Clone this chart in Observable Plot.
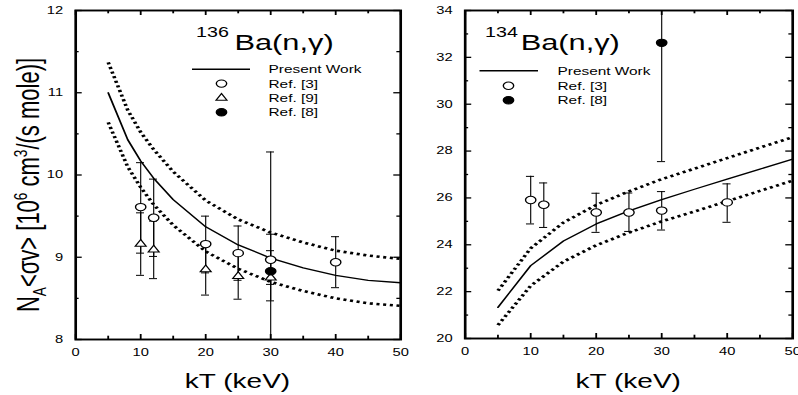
<!DOCTYPE html>
<html><head><meta charset="utf-8">
<script src="https://cdn.jsdelivr.net/npm/d3@7"></script>
<script src="https://cdn.jsdelivr.net/npm/@observablehq/plot@0.6"></script>
<style>
html,body{margin:0;padding:0;background:#fff;}
#wrap{position:relative;width:798px;height:395px;overflow:hidden;background:#fff;}
#wrap svg{position:absolute;top:0;}
</style></head><body><div id="wrap"></div>
<script>
// ---------- data: 136Ba(n,gamma) (left panel) ----------
const kTCurve136 = [5, 8, 10, 12, 15, 20, 25, 30, 35, 40, 45, 50];
const present136 = [11.00, 10.43, 10.17, 9.96, 9.70, 9.37, 9.15, 8.99, 8.87, 8.78, 8.72, 8.69];
const upper136   = [11.37, 10.79, 10.52, 10.31, 10.04, 9.69, 9.46, 9.30, 9.18, 9.08, 9.02, 8.98];
const lower136   = [10.64, 10.10, 9.85, 9.64, 9.39, 9.07, 8.86, 8.70, 8.59, 8.50, 8.44, 8.41];

const ref3kT136  = [10, 12, 20, 25, 30, 40];
const ref3val136 = [9.61, 9.48, 9.16, 9.05, 8.97, 8.94];
const ref3lo136  = [9.05, 9.01, 8.81, 8.72, 8.67, 8.63];
const ref3hi136  = [10.15, 9.95, 9.50, 9.38, 9.28, 9.25];

const ref9kT136  = [10, 12, 20, 25, 30];
const ref9val136 = [9.16, 9.09, 8.85, 8.77, 8.75];
const ref9lo136  = [8.78, 8.74, 8.54, 8.49, 8.47];
const ref9hi136  = [9.54, 9.44, 9.16, 9.06, 9.08];

const ref8kT136  = [30];
const ref8val136 = [8.83];
const ref8lo136  = [7.38];
const ref8hi136  = [10.28];

// ---------- data: 134Ba(n,gamma) (right panel) ----------
const kTCurve134 = [5, 10, 15, 20, 25, 30, 35, 40, 45, 50];
const present134 = [21.33, 23.11, 24.16, 24.89, 25.45, 25.93, 26.37, 26.80, 27.23, 27.66];
const upper134   = [22.04, 23.85, 24.95, 25.70, 26.28, 26.80, 27.25, 27.70, 28.15, 28.59];
const lower134   = [20.57, 22.25, 23.28, 23.98, 24.52, 25.00, 25.42, 25.86, 26.30, 26.74];

const ref3kT134  = [10, 12, 20, 25, 30, 40];
const ref3val134 = [25.91, 25.71, 25.38, 25.38, 25.46, 25.81];
const ref3lo134  = [24.89, 24.74, 24.53, 24.57, 24.63, 24.96];
const ref3hi134  = [26.92, 26.64, 26.20, 26.21, 26.27, 26.60];

const ref8kT134  = [30];
const ref8val134 = [32.62];
const ref8lo134  = [27.55];
const ref8hi134  = [37.70];

// ---------- tick labels ----------
const xMajor = [0, 10, 20, 30, 40, 50];
const xMinor = [5, 15, 25, 35, 45];
const yMajor136 = [8, 9, 10, 11, 12];
const yMinor136 = [8.5, 9.5, 10.5, 11.5];
const yMajor134 = [20, 22, 24, 26, 28, 30, 32, 34];
const yMinor134 = [21, 23, 25, 27, 29, 31, 33];

const xLabel = "kT (keV)";
const legendPresent = "Present Work";

// ---------- helpers ----------
const S = 1.4; // horizontal stretch of the original figure
const FONT = "'Liberation Sans', Arial, Helvetica, sans-serif";

function curveTable(kT, present, upper, lower) {
  return kT.map((k, i) => ({kT: k, present: present[i], upper: upper[i], lower: lower[i]}));
}
function pointTable(kT, val, lo, hi) {
  return kT.map((k, i) => ({kT: k, val: val[i], lo: lo[i], hi: hi[i]}));
}

function richText(sel, parts, size) {
  parts.forEach(p => {
    const ts = sel.append("tspan").text(p.t);
    if (p.sup) ts.attr("font-size", size * (p.scale || 0.62)).attr("baseline-shift", p.shift || "super");
    if (p.sub) ts.attr("font-size", size * 0.62).attr("baseline-shift", p.shift || "sub");
    if (p.dx) ts.attr("dx", p.dx);
  });
}

function makePanel(cfg) {
  const W = cfg.realWidth / S, H = 395;
  const mL = (cfg.frameLeft - cfg.left) / S;
  const mR = (cfg.left + cfg.realWidth - cfg.frameRight) / S;
  const mT = 10, mB = H - cfg.frameBottom;
  const fw = W - mL - mR, fh = H - mT - mB;
  const [y0, y1] = cfg.yDomain;
  const inY = v => v >= y0 - 1e-9 && v <= y1 + 1e-9;
  const capHalf = 0.62;
  const allPts = cfg.series.flatMap(s => s.data);
  const dotted = {stroke: "black", strokeWidth: 2.6, strokeDasharray: "2.2,2.6", strokeLinecap: "butt"};

  const marks = [
    Plot.line(cfg.curve, {x: "kT", y: "upper", ...dotted}),
    Plot.line(cfg.curve, {x: "kT", y: "lower", ...dotted}),
    Plot.line(cfg.curve, {x: "kT", y: "present", stroke: "black", strokeWidth: 1.3}),
    Plot.ruleX(allPts, {x: "kT", y1: "lo", y2: "hi", stroke: "black", strokeWidth: 0.8}),
    Plot.ruleY(allPts.filter(d => inY(d.lo)), {y: "lo", x1: d => d.kT - capHalf, x2: d => d.kT + capHalf, stroke: "black", strokeWidth: 1}),
    Plot.ruleY(allPts.filter(d => inY(d.hi)), {y: "hi", x1: d => d.kT - capHalf, x2: d => d.kT + capHalf, stroke: "black", strokeWidth: 1}),
    ...cfg.series.map(s => Plot.dot(s.data, {x: "kT", y: "val", symbol: s.symbol, r: s.r, fill: s.fill, stroke: "black", strokeWidth: 1})),
    // inward ticks: bottom, top, left, right
    Plot.tickX(xMajor, {x: d => d, insetTop: fh - 5, stroke: "black", strokeWidth: 1.3}),
    Plot.tickX(xMinor, {x: d => d, insetTop: fh - 3.3, stroke: "black", strokeWidth: 1.3}),
    Plot.tickX(xMajor, {x: d => d, insetBottom: fh - 5, stroke: "black", strokeWidth: 1.3}),
    Plot.tickX(xMinor, {x: d => d, insetBottom: fh - 3.3, stroke: "black", strokeWidth: 1.3}),
    Plot.tickY(cfg.yMajor, {y: d => d, insetRight: fw - 4.8, stroke: "black", strokeWidth: 1.3}),
    Plot.tickY(cfg.yMinor, {y: d => d, insetRight: fw - 2.6, stroke: "black", strokeWidth: 1.3}),
    Plot.tickY(cfg.yMajor, {y: d => d, insetLeft: fw - 4.8, stroke: "black", strokeWidth: 1.3}),
    Plot.tickY(cfg.yMinor, {y: d => d, insetLeft: fw - 2.6, stroke: "black", strokeWidth: 1.3}),
    Plot.frame({stroke: "black", strokeWidth: 1.9})
  ];

  const svg = Plot.plot({
    width: W, height: H,
    marginLeft: mL, marginRight: mR, marginTop: mT, marginBottom: mB,
    style: {fontFamily: FONT, fontSize: "10.5px", color: "black", background: "none", overflow: "visible"},
    x: {domain: [0, 50], ticks: xMajor, tickSize: 0, tickPadding: 9, tickFormat: d3.format("d"), label: null},
    y: {domain: cfg.yDomain, ticks: cfg.yMajor, tickSize: 0, tickPadding: 9, tickFormat: d3.format("d"), label: null, clamp: true},
    symbol: {domain: ["circle", "triangle"], range: ["circle", "triangle"]},
    marks
  });

  svg.setAttribute("width", cfg.realWidth);
  svg.setAttribute("height", H);
  svg.setAttribute("viewBox", `0 0 ${W} ${H}`);
  svg.setAttribute("preserveAspectRatio", "none");
  svg.style.left = cfg.left + "px";
  svg.style.width = cfg.realWidth + "px";
  svg.style.height = H + "px";
  svg.style.maxWidth = "none";

  const g = d3.select(svg).append("g").attr("font-family", FONT).attr("fill", "black").attr("text-anchor", "start");
  const X = rx => (rx - cfg.left) / S;
  const xs = svg.scale("x");

  // title
  const t = g.append("text").attr("x", X(cfg.title.x)).attr("y", cfg.title.y).attr("font-size", 22).attr("text-anchor", "start");
  richText(t, [{t: cfg.title.iso, sup: true, scale: 0.64, shift: 13.5}, {t: "Ba(n,γ)", dx: cfg.title.dx}], 22);

  // x label
  g.append("text").attr("x", (xs.apply(0) + xs.apply(50)) / 2).attr("y", 388)
    .attr("text-anchor", "middle").attr("font-size", 20).text(xLabel);

  // legend
  const L = cfg.legend;
  g.append("line").attr("x1", X(L.lineX0)).attr("x2", X(L.lineX1)).attr("y1", L.rows[0]).attr("y2", L.rows[0])
    .attr("stroke", "black").attr("stroke-width", 1.5);
  const labels = [legendPresent, ...cfg.series.map(s => s.label)];
  labels.forEach((lab, i) => {
    g.append("text").attr("x", X(L.textX)).attr("y", L.rows[i]).attr("dy", "0.36em")
      .attr("text-anchor", "start").attr("font-size", 11).text(lab);
  });
  cfg.series.forEach((s, i) => {
    const sym = s.symbol === "triangle" ? d3.symbolTriangle : d3.symbolCircle;
    g.append("path").attr("d", d3.symbol(sym, s.r * s.r * Math.PI)())
      .attr("transform", `translate(${X(L.markX)},${L.rows[i + 1]})`)
      .attr("fill", s.fill).attr("stroke", "black").attr("stroke-width", 1);
  });

  if (cfg.yLabel) {
    const yl = g.append("text").attr("text-anchor", "middle").attr("font-size", 22)
      .attr("transform", `translate(${X(39)},185) rotate(-90)`);
    richText(yl, [
      {t: "N"}, {t: "A", sub: true, shift: -5},
      {t: "<σv> [10"}, {t: "6", sup: true, shift: 8.5},
      {t: " cm"}, {t: "3", sup: true, shift: 8.5},
      {t: "/(s mole)]"}
    ], 22);
  }
  document.getElementById("wrap").appendChild(svg);
}

makePanel({
  left: 0, realWidth: 403, frameLeft: 75, frameRight: 400, frameBottom: 339,
  yDomain: [8, 12], yMajor: yMajor136, yMinor: yMinor136,
  curve: curveTable(kTCurve136, present136, upper136, lower136),
  series: [
    {label: "Ref. [3]", symbol: "circle", r: 3.7, fill: "white", data: pointTable(ref3kT136, ref3val136, ref3lo136, ref3hi136)},
    {label: "Ref. [9]", symbol: "triangle", r: 2.9, fill: "white", data: pointTable(ref9kT136, ref9val136, ref9lo136, ref9hi136)},
    {label: "Ref. [8]", symbol: "circle", r: 3.7, fill: "black", data: pointTable(ref8kT136, ref8val136, ref8lo136, ref8hi136)}
  ],
  title: {iso: "136", x: 196, y: 50.5, dx: 4},
  legend: {lineX0: 192, lineX1: 250, markX: 221.5, textX: 268.5, rows: [69.3, 83.6, 98, 112.3]},
  yLabel: true
});

makePanel({
  left: 403, realWidth: 395, frameLeft: 464.5, frameRight: 792, frameBottom: 338,
  yDomain: [20, 34], yMajor: yMajor134, yMinor: yMinor134,
  curve: curveTable(kTCurve134, present134, upper134, lower134),
  series: [
    {label: "Ref. [3]", symbol: "circle", r: 3.7, fill: "white", data: pointTable(ref3kT134, ref3val134, ref3lo134, ref3hi134)},
    {label: "Ref. [8]", symbol: "circle", r: 3.7, fill: "black", data: pointTable(ref8kT134, ref8val134, ref8lo134, ref8hi134)}
  ],
  title: {iso: "134", x: 485, y: 50.5, dx: 2},
  legend: {lineX0: 479.5, lineX1: 538, markX: 508.5, textX: 557.5, rows: [70.7, 85.7, 100.2]},
  yLabel: false
});
</script></body></html>
